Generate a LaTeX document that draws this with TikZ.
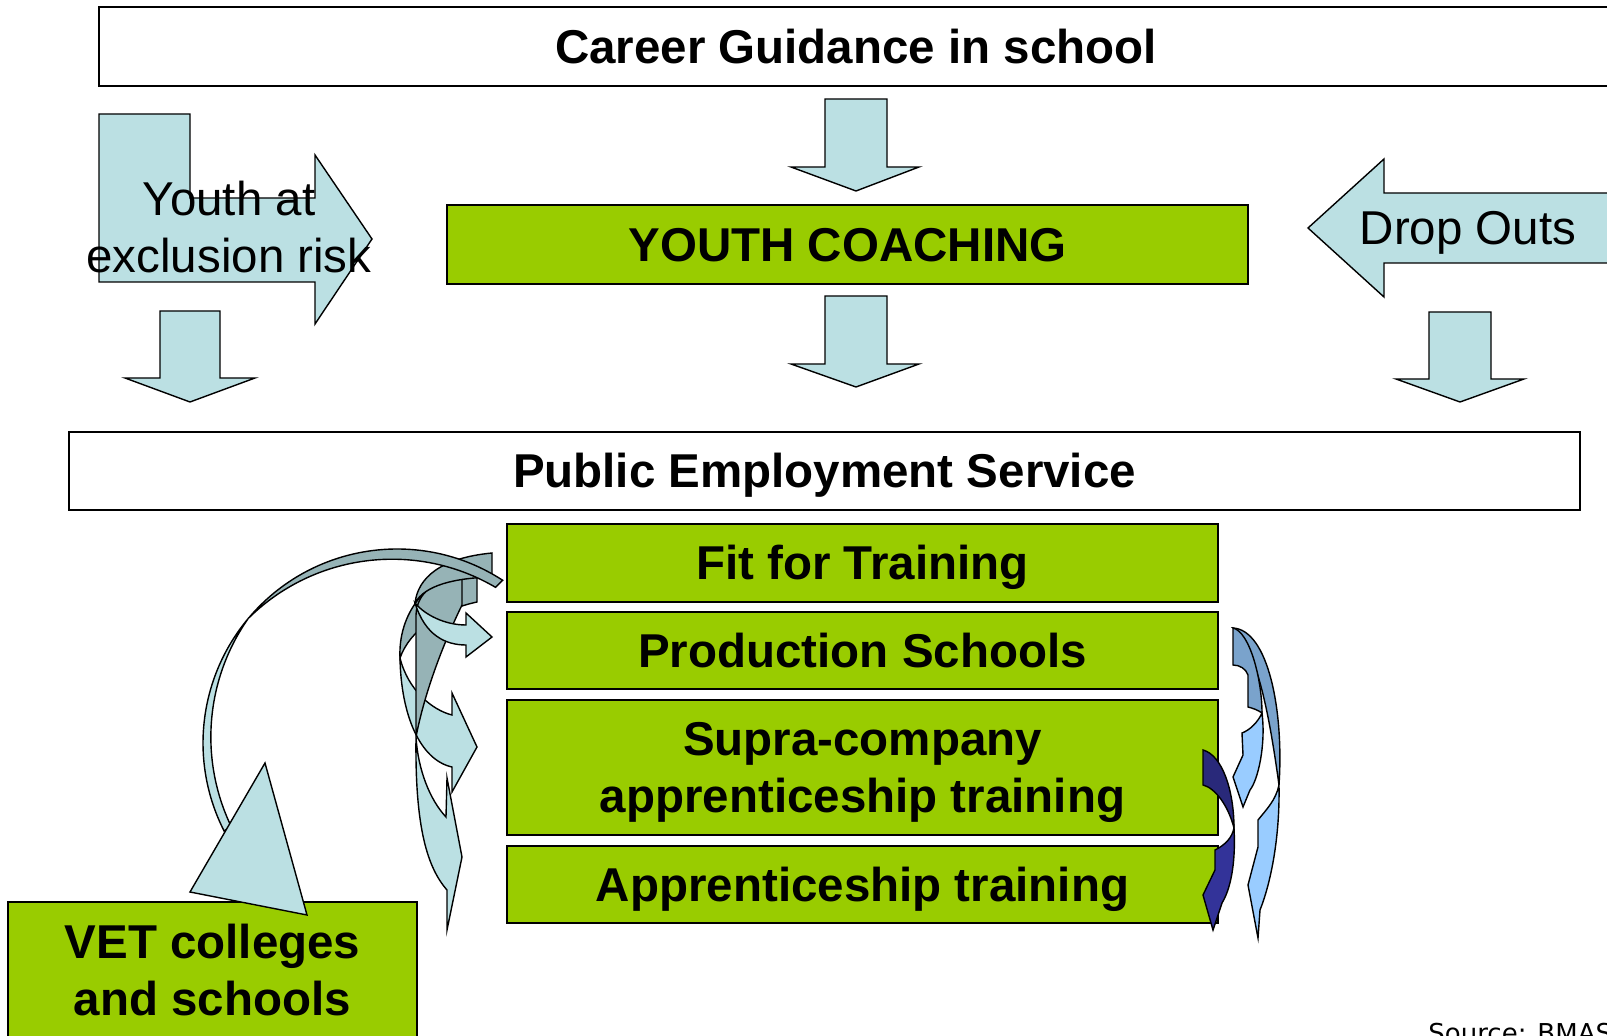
\documentclass[tikz,border=0pt]{standalone}
\usepackage{fontspec}
\setmainfont{Liberation Sans}
\newfontfamily\sourcefont{DejaVu Sans}

\definecolor{limegreen}{RGB}{153,204,0}
\definecolor{paleblue}{RGB}{187,224,227}
\definecolor{paleteal}{RGB}{150,179,182}
\definecolor{skyblue}{RGB}{153,204,255}
\definecolor{steelblue}{RGB}{122,163,204}
\definecolor{navyblue}{RGB}{51,51,153}
\definecolor{deepnavy}{RGB}{41,41,122}

\tikzset{
  plainlabel/.style={font=\fontsize{23.75}{28.5}\selectfont, text height=17pt, text depth=0pt},
  boldlabel/.style={plainlabel, font=\fontsize{23.75}{28.5}\selectfont\bfseries},
  tworow/.style={align=center, text height=45.5pt, text depth=0pt},
  whitebox/.style={draw=black, fill=white, line width=0.9pt, inner sep=0pt, boldlabel},
  greenbox/.style={whitebox, fill=limegreen},
  blockarrow/.style={draw=black, fill=paleblue, line width=0.7pt},
  backside/.style={blockarrow, fill=paleteal},
}

\begin{document}
\begin{tikzpicture}[x=0.5pt,y=-0.5pt]
	\useasboundingbox (0,0) rectangle (1607,1036);

	\node[whitebox, minimum width=757pt, minimum height=39.5pt] (career) at (856,46.5) {Career Guidance in school};
	\node[whitebox, minimum width=755.5pt, minimum height=39pt] (pes) at (824.5,471) {Public Employment Service};

	% straight block arrows
	\draw[blockarrow] (825,99) -- (887,99) -- (887,167) -- (919,167) -- (856,191) -- (791,167) -- (825,167) -- cycle;
	\draw[blockarrow] (825,296) -- (887,296) -- (887,364) -- (919,364) -- (856,387) -- (791,364) -- (825,364) -- cycle;
	\draw[blockarrow] (160,311) -- (220,311) -- (220,378) -- (255,378) -- (190,402) -- (125,378) -- (160,378) -- cycle;
	\draw[blockarrow] (1429,312) -- (1491,312) -- (1491,379) -- (1524,379) -- (1460,402) -- (1396,379) -- (1429,379) -- cycle;
	\draw[blockarrow] %bent arrow
	(99,114) -- (190,114) -- (190,198) -- (315,198) -- (315,155) -- (372,239) -- (315,324) -- (315,282) -- (99,282) -- cycle;
	\draw[blockarrow] %drop outs
	(1620,193) -- (1384,193) -- (1384,159) -- (1308,228) -- (1384,297) -- (1384,263) -- (1620,263) -- cycle;
	\node[plainlabel, tworow] (youth) at (229,227.5) {Youth at\\exclusion risk};
	\node[plainlabel] (dropout) at (1468,228) {Drop Outs};

	\node[greenbox, minimum width=400.5pt, minimum height=39.5pt] (coaching) at (847.5,244.5) {YOUTH COACHING};
	\node[greenbox, minimum width=355.5pt, minimum height=39pt] (fittrain) at (862.5,563) {Fit for Training};
	\node[greenbox, minimum width=355.5pt, minimum height=38.5pt] (prodschool) at (862.5,650.5) {Production Schools};
	\node[greenbox, tworow, minimum width=355.5pt, minimum height=67.5pt] (supra) at (862.5,767.5) {Supra-company\\apprenticeship training};
	\node[greenbox, minimum width=355.5pt, minimum height=38.5pt] (apprent) at (862.5,884.5) {Apprenticeship training};

	% swirl left of the boxes
	\filldraw[backside] (477,567) -- (477,602) .. controls (440,610) and (410,630) .. (400,658)
		.. controls (398,615) and (425,575) .. (477,567) -- cycle;
	\filldraw[blockarrow] (400,658) .. controls (401,715) and (420,760) .. (452,767) -- (452,792) -- (477,747)
		-- (452,693) -- (452,715) .. controls (432,710) and (408,690) .. (400,658) -- cycle;
	\filldraw[backside] (462,578) -- (462,605) .. controls (445,640) and (425,690) .. (416,737)
		-- (416,615) .. controls (417,592) and (435,580) .. (462,578) -- cycle;
	\filldraw[blockarrow] (416,737) .. controls (415,820) and (425,865) .. (447,890) -- (447,930) -- (462,857)
		-- (447,778) -- (446,817) .. controls (430,800) and (418,770) .. (416,737) -- cycle;
	\filldraw[backside] (492,553) -- (492,577) .. controls (455,578) and (425,585) .. (415,603)
		.. controls (418,578) and (440,558) .. (492,553) -- cycle;
	\filldraw[blockarrow] (415,603) .. controls (425,635) and (445,645) .. (466,645) -- (466,657) -- (492,637)
		-- (466,613) -- (466,625) .. controls (445,625) and (425,615) .. (415,603) -- cycle;

	% big sweep down to the VET box
	\filldraw[backside] (502.7,580.3) arc[start angle=-57, end angle=-140, radius=194]
		arc[start angle=-134.7, end angle=-59.6, radius=204.3] -- cycle;
	\filldraw[blockarrow] (248.4,618.3) arc[start angle=-140, end angle=-207, radius=194]
		-- (231,826.1) arc[start angle=-205.5, end angle=-144.9, radius=206.8] -- cycle;
	\node[greenbox, tworow, minimum width=204.5pt, minimum height=68pt] (vet) at (212.5,970) {VET colleges\\and schools};
	\filldraw[blockarrow] (190,892) -- (265,763) -- (307,915) -- cycle;

	% swirl right of the boxes
	\filldraw[blockarrow, fill=steelblue] (1233,628) .. controls (1268,630) and (1284,710) .. (1279,785)
		.. controls (1270,720) and (1258,650) .. (1233,628) -- cycle;
	\filldraw[blockarrow, fill=steelblue] (1233,628) .. controls (1250,632) and (1262,680) .. (1262,713)
		.. controls (1258,710) and (1252,708) .. (1248,707) -- (1248,675)
		.. controls (1246,669) and (1240,665) .. (1233,665) -- cycle;
	\filldraw[blockarrow, fill=skyblue] (1279,785) .. controls (1280,840) and (1270,885) .. (1260,910) -- (1258,938)
		-- (1248,885) -- (1258,847) -- (1258,820) .. controls (1266,810) and (1276,800) .. (1279,785) -- cycle;
	\filldraw[blockarrow, fill=skyblue] (1262,713) .. controls (1266,745) and (1258,780) .. (1250,790) -- (1243,807)
		-- (1233,777) -- (1243,755) -- (1242,733) .. controls (1250,730) and (1258,722) .. (1262,713) -- cycle;
	\filldraw[blockarrow, fill=deepnavy] (1203,750) -- (1203,785) .. controls (1215,788) and (1228,805) .. (1234,828)
		.. controls (1234,790) and (1222,755) .. (1203,750) -- cycle;
	\filldraw[blockarrow, fill=navyblue] (1234,828) .. controls (1236,865) and (1230,890) .. (1222,903) -- (1213,930)
		-- (1203,895) -- (1215,870) -- (1215,850) .. controls (1225,845) and (1232,838) .. (1234,828) -- cycle;

	\node[font=\sourcefont\fontsize{13}{15}\selectfont, anchor=base west, inner sep=0pt] (source) at (1428,1042) {Source: BMAS};
\end{tikzpicture}
\end{document}
